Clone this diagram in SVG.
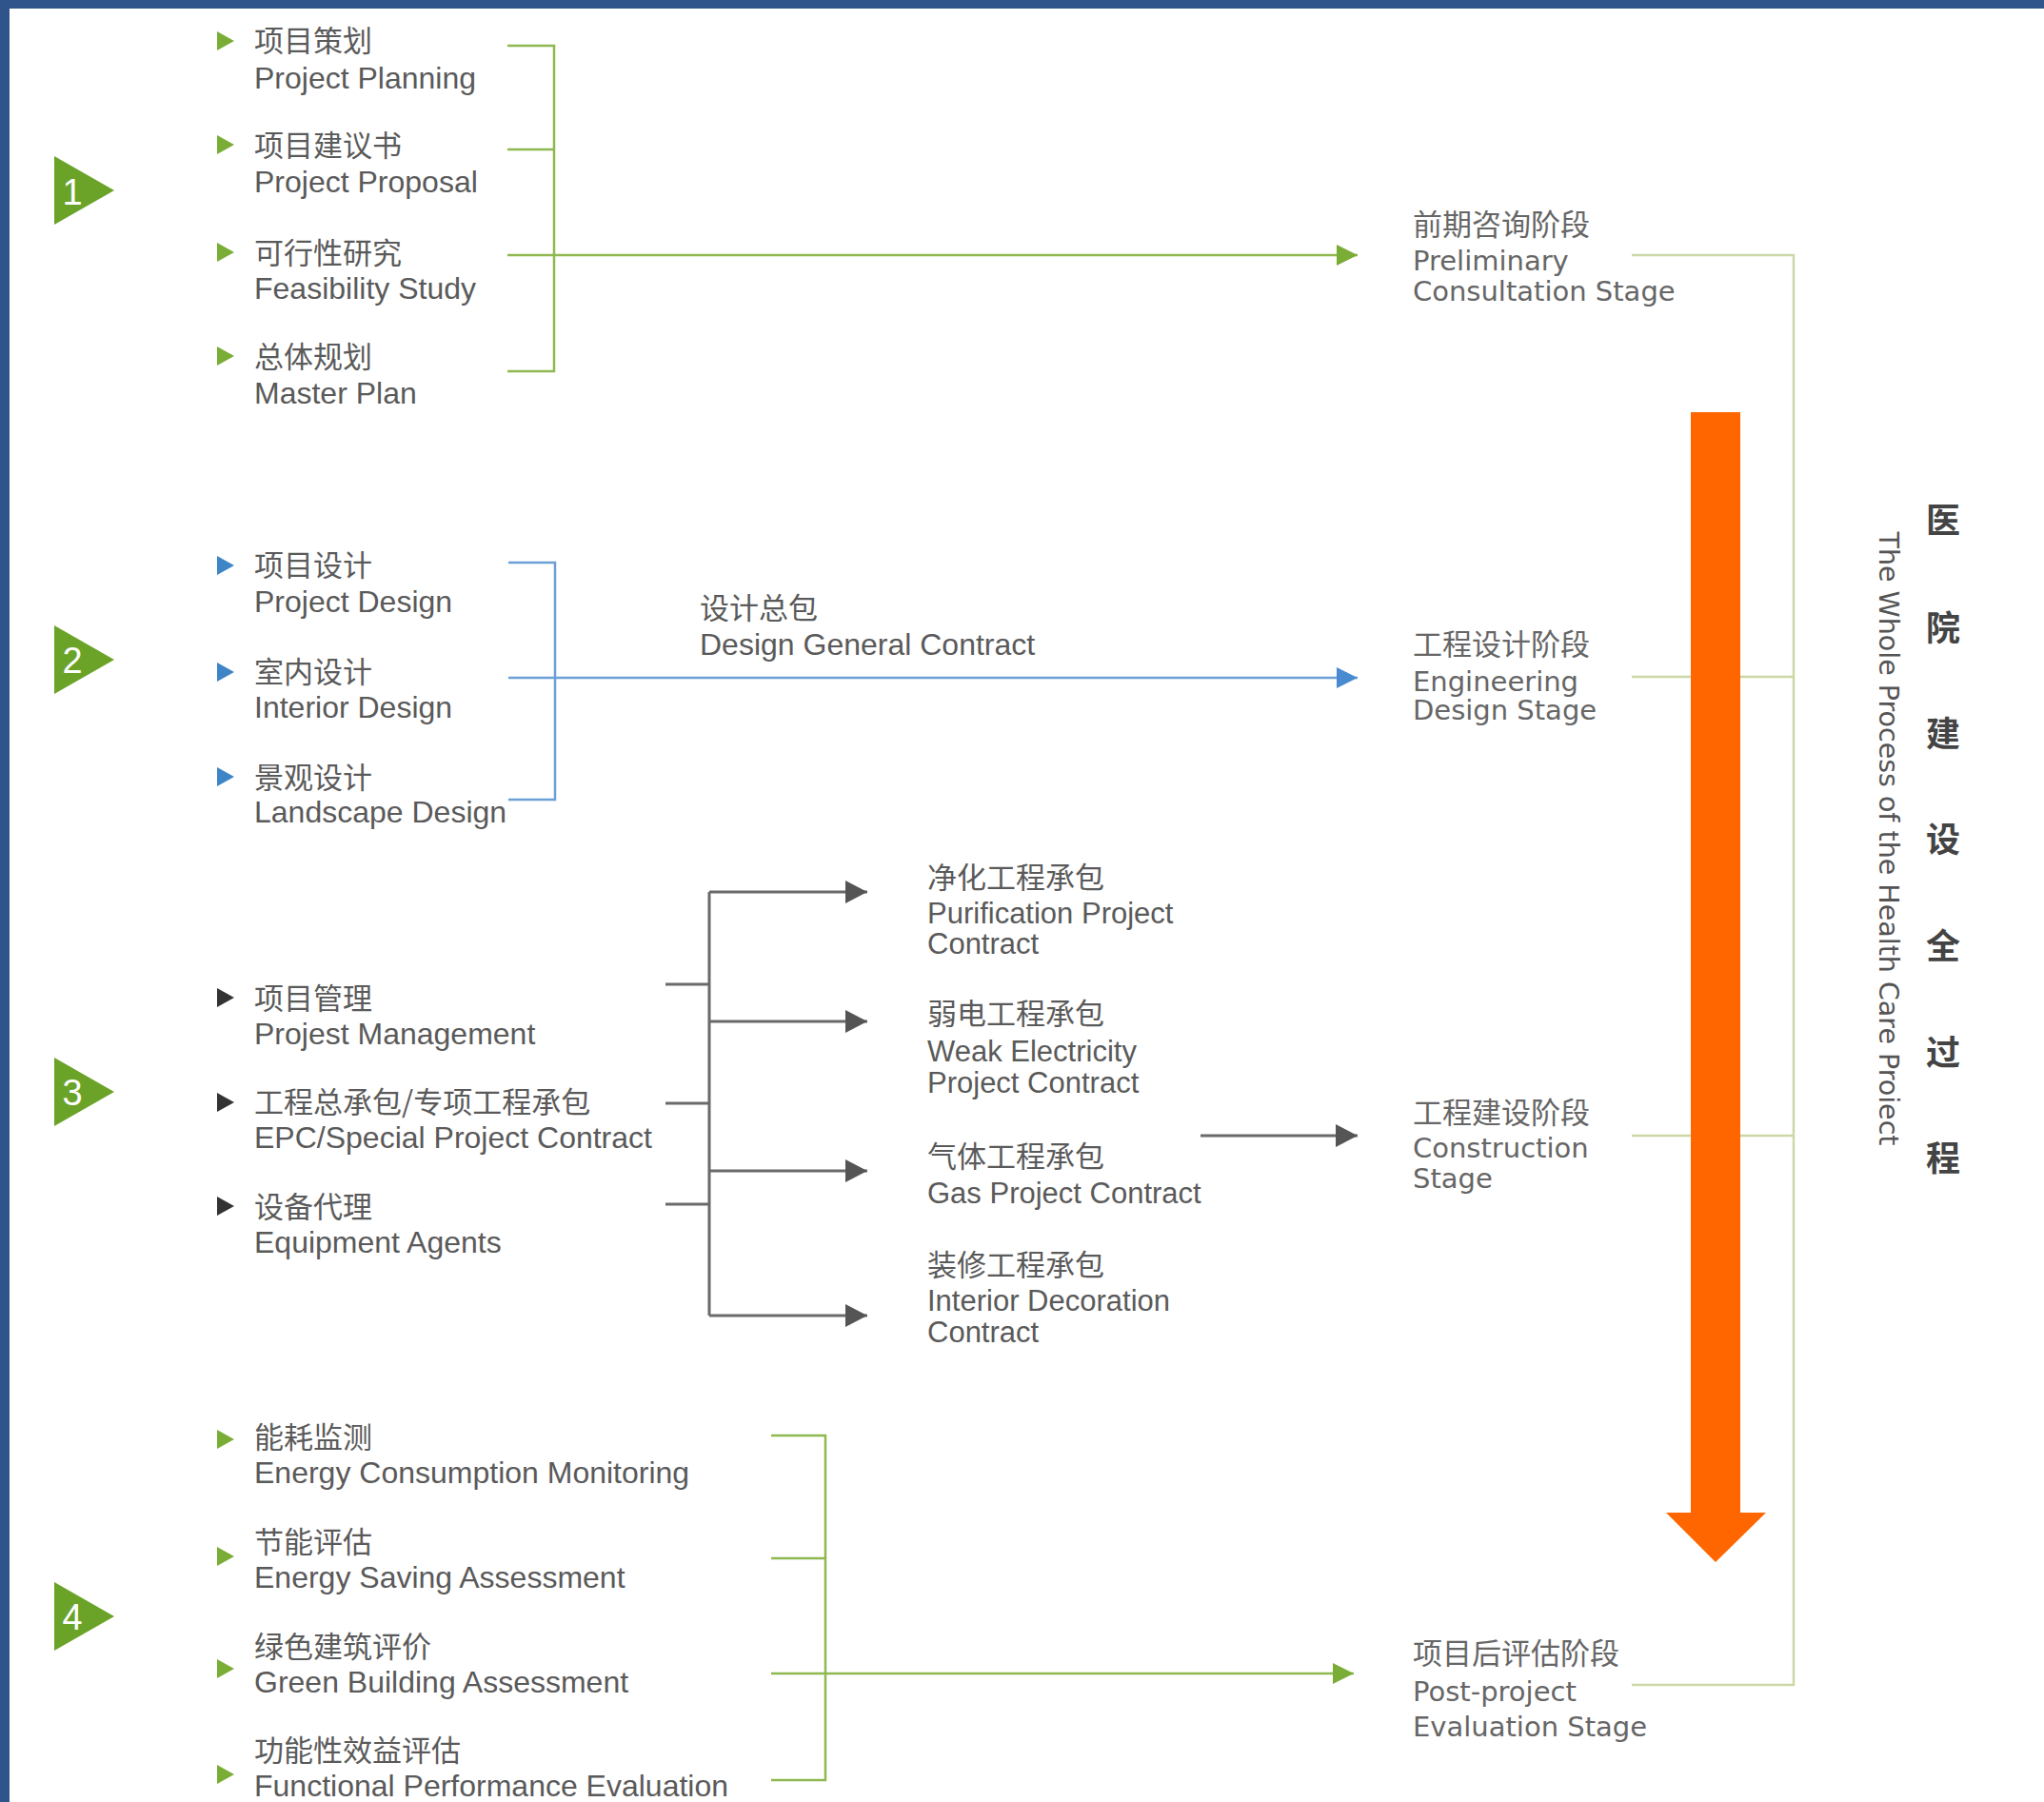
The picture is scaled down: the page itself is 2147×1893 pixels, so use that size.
<svg xmlns="http://www.w3.org/2000/svg" width="2147" height="1893" viewBox="0 0 2147 1893">
<style>
.zh{font-family:"Noto Sans CJK SC","Liberation Sans",sans-serif;font-size:31px;fill:#5a5a5a}
.en{font-family:"Liberation Sans","Noto Sans CJK SC",sans-serif;font-size:32px;fill:#5a5a5a}
.en2{font-family:"Liberation Sans","Noto Sans CJK SC",sans-serif;font-size:31px;fill:#5a5a5a}
.st{font-family:"DejaVu Sans","Noto Sans CJK SC",sans-serif;font-size:29px;fill:#666}
.stzh{font-family:"Noto Sans CJK SC",sans-serif;font-size:31px;fill:#666}
.num{font-family:"Liberation Sans",sans-serif;font-size:38px;fill:#fff;text-anchor:middle}
.big{fill:#6aa328}
.bg{fill:#7aad35}
.bb{fill:#3d85c6}
.bk{fill:#333}
.lg{fill:none;stroke:#8fb850;stroke-width:2.5}
.lb{fill:none;stroke:#6b9fd6;stroke-width:2.5}
.lk{fill:none;stroke:#6a6a6a;stroke-width:3}
.lp{fill:none;stroke:#cbd8a6;stroke-width:2.5}
.vzh{font-family:"Noto Sans CJK SC",sans-serif;font-size:36px;font-weight:bold;fill:#444;text-anchor:middle}
.ven{font-family:"DejaVu Sans",sans-serif;font-size:28.5px;fill:#555;text-anchor:middle}
</style>
<defs>
<marker id="ag" markerUnits="userSpaceOnUse" markerWidth="24" markerHeight="24" refX="22" refY="11" orient="auto"><path d="M0,0 L22,11 L0,22 z" fill="#7aad35"/></marker>
<marker id="ab" markerUnits="userSpaceOnUse" markerWidth="24" markerHeight="24" refX="22" refY="11" orient="auto"><path d="M0,0 L22,11 L0,22 z" fill="#4a8ad0"/></marker>
<marker id="ak" markerUnits="userSpaceOnUse" markerWidth="26" markerHeight="26" refX="23" refY="12" orient="auto"><path d="M0,0 L23,12 L0,24 z" fill="#555"/></marker>
</defs>
<rect x="0" y="0" width="2147" height="1893" fill="#fff"/>
<rect x="0" y="0" width="2147" height="9" fill="#2f548c"/>
<rect x="0" y="0" width="10" height="1893" fill="#2f548c"/>

<g id="connectors">
<path class="lg" d="M533,48 H582 V390 H533 M533,157 H582"/>
<path class="lg" d="M533,268 H1426" marker-end="url(#ag)"/>
<path class="lb" d="M534,591 H583 V840 H534"/>
<path class="lb" d="M534,712 H1426" marker-end="url(#ab)"/>
<path class="lk" d="M699,1034 H745 M699,1159 H745 M699,1265 H745 M745,937 V1382"/>
<path class="lk" d="M745,937 H911" marker-end="url(#ak)"/>
<path class="lk" d="M745,1073 H911" marker-end="url(#ak)"/>
<path class="lk" d="M745,1230 H911" marker-end="url(#ak)"/>
<path class="lk" d="M745,1382 H911" marker-end="url(#ak)"/>
<path class="lk" d="M1261,1193 H1426" marker-end="url(#ak)"/>
<path class="lg" d="M810,1508 H867 V1870 H810 M810,1637 H867"/>
<path class="lg" d="M810,1758 H1422" marker-end="url(#ag)"/>
<path class="lp" d="M1714,268 H1884 V1770 H1714 M1714,711 H1884 M1714,1193 H1884"/>
</g>

<g id="step1">
<polygon class="big" points="57,164 120,200 57,236"/>
<text class="num" x="76" y="215">1</text>
</g>
<g id="step2">
<polygon class="big" points="57,657 120,693 57,729"/>
<text class="num" x="76" y="707">2</text>
</g>
<g id="step3">
<polygon class="big" points="57,1111 120,1147 57,1183"/>
<text class="num" x="76" y="1161">3</text>
</g>
<g id="step4">
<polygon class="big" points="57,1662 120,1698 57,1734"/>
<text class="num" x="76" y="1712">4</text>
</g>

<g id="project-planning"><polygon class="bg" points="228,33 246,43 228,53"/><text class="zh" x="267" y="54">项目策划</text><text class="en" x="267" y="93">Project Planning</text></g>
<g id="project-proposal"><polygon class="bg" points="228,142 246,152 228,162"/><text class="zh" x="267" y="164">项目建议书</text><text class="en" x="267" y="202">Project Proposal</text></g>
<g id="feasibility-study"><polygon class="bg" points="228,255 246,265 228,275"/><text class="zh" x="267" y="277">可行性研究</text><text class="en" x="267" y="314">Feasibility Study</text></g>
<g id="master-plan"><polygon class="bg" points="228,364 246,374 228,384"/><text class="zh" x="267" y="386">总体规划</text><text class="en" x="267" y="424">Master Plan</text></g>

<g id="project-design"><polygon class="bb" points="228,584 246,594 228,604"/><text class="zh" x="267" y="605">项目设计</text><text class="en" x="267" y="643">Project Design</text></g>
<g id="interior-design"><polygon class="bb" points="228,696 246,706 228,716"/><text class="zh" x="267" y="717">室内设计</text><text class="en" x="267" y="754">Interior Design</text></g>
<g id="landscape-design"><polygon class="bb" points="228,806 246,816 228,826"/><text class="zh" x="267" y="828">景观设计</text><text class="en" x="267" y="864">Landscape Design</text></g>
<g id="design-general-contract"><text class="zh" x="735" y="650">设计总包</text><text class="en" x="735" y="688">Design General Contract</text></g>

<g id="project-management"><polygon class="bk" points="228,1038 246,1048 228,1058"/><text class="zh" x="267" y="1060">项目管理</text><text class="en" x="267" y="1097">Projest Management</text></g>
<g id="epc"><polygon class="bk" points="228,1148 246,1158 228,1168"/><text class="zh" x="267" y="1169">工程总承包/专项工程承包</text><text class="en" x="267" y="1206">EPC/Special Project Contract</text></g>
<g id="equipment-agents"><polygon class="bk" points="228,1257 246,1267 228,1277"/><text class="zh" x="267" y="1279">设备代理</text><text class="en" x="267" y="1316">Equipment Agents</text></g>

<g id="purification"><text class="zh" x="974" y="933">净化工程承包</text><text class="en2" x="974" y="970">Purification Project</text><text class="en2" x="974" y="1002">Contract</text></g>
<g id="weak-electricity"><text class="zh" x="974" y="1076">弱电工程承包</text><text class="en2" x="974" y="1115">Weak Electricity</text><text class="en2" x="974" y="1148">Project Contract</text></g>
<g id="gas"><text class="zh" x="974" y="1226">气体工程承包</text><text class="en2" x="974" y="1264">Gas Project Contract</text></g>
<g id="interior-decoration"><text class="zh" x="974" y="1340">装修工程承包</text><text class="en2" x="974" y="1377">Interior Decoration</text><text class="en2" x="974" y="1410">Contract</text></g>

<g id="energy-monitoring"><polygon class="bg" points="228,1502 246,1512 228,1522"/><text class="zh" x="267" y="1521">能耗监测</text><text class="en" x="267" y="1558">Energy Consumption Monitoring</text></g>
<g id="energy-saving"><polygon class="bg" points="228,1625 246,1635 228,1645"/><text class="zh" x="267" y="1631">节能评估</text><text class="en" x="267" y="1668">Energy Saving Assessment</text></g>
<g id="green-building"><polygon class="bg" points="228,1743 246,1753 228,1763"/><text class="zh" x="267" y="1741">绿色建筑评价</text><text class="en" x="267" y="1778">Green Building Assessment</text></g>
<g id="functional-performance"><polygon class="bg" points="228,1854 246,1864 228,1874"/><text class="zh" x="267" y="1850">功能性效益评估</text><text class="en" x="267" y="1887">Functional Performance Evaluation</text></g>

<g id="stage-preliminary"><text class="stzh" x="1484" y="247">前期咨询阶段</text><text class="st" x="1484" y="284">Preliminary</text><text class="st" x="1484" y="316">Consultation Stage</text></g>
<g id="stage-design"><text class="stzh" x="1484" y="688">工程设计阶段</text><text class="st" x="1484" y="726">Engineering</text><text class="st" x="1484" y="756">Design Stage</text></g>
<g id="stage-construction"><text class="stzh" x="1484" y="1180">工程建设阶段</text><text class="st" x="1484" y="1216">Construction</text><text class="st" x="1484" y="1248">Stage</text></g>
<g id="stage-post"><text class="stzh" x="1484" y="1748">项目后评估阶段</text><text class="st" x="1484" y="1787">Post-project</text><text class="st" x="1484" y="1824">Evaluation Stage</text></g>

<g id="process-arrow">
<path d="M1776,433 H1828 V1589 H1855 L1802,1641 L1750,1589 H1776 Z" fill="#ff6600"/>
</g>

<g id="title">
<text class="ven" transform="translate(1974,881) rotate(90)">The Whole Process of the Health Care Proiect</text>
<text class="vzh" x="2041" y="560">医</text>
<text class="vzh" x="2041" y="673">院</text>
<text class="vzh" x="2041" y="784">建</text>
<text class="vzh" x="2041" y="895">设</text>
<text class="vzh" x="2041" y="1007">全</text>
<text class="vzh" x="2041" y="1119">过</text>
<text class="vzh" x="2041" y="1230">程</text>
</g>
</svg>
